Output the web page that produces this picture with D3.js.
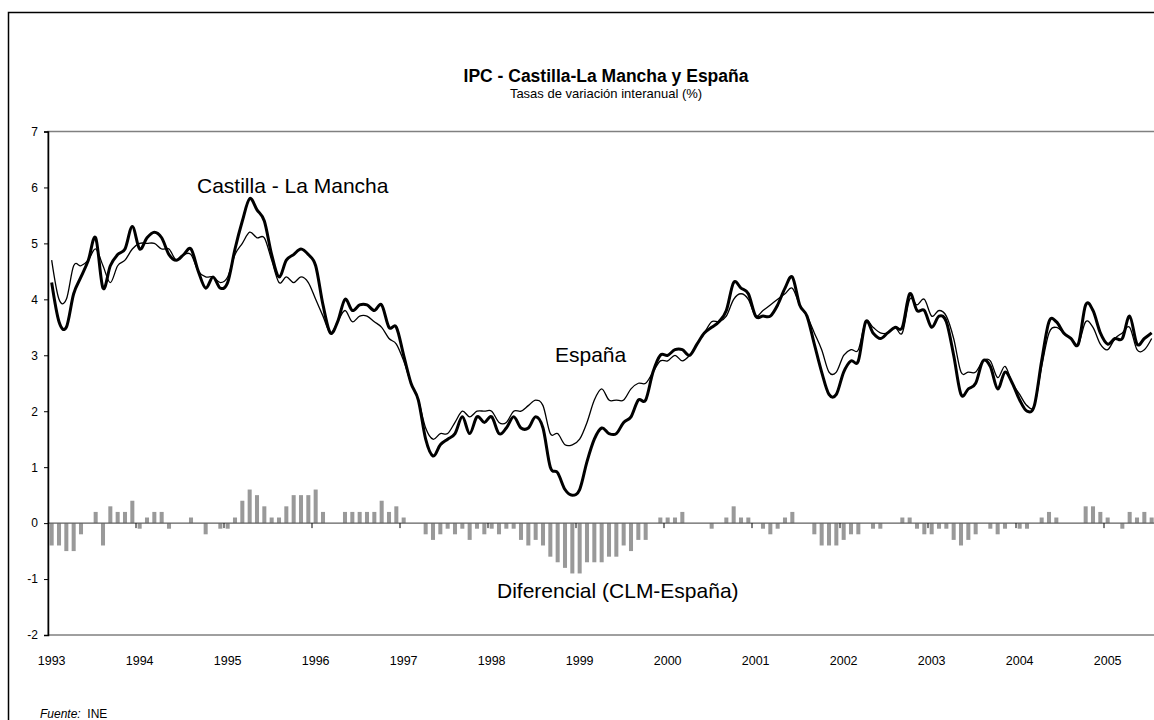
<!DOCTYPE html>
<html>
<head>
<meta charset="utf-8">
<script src="https://cdn.jsdelivr.net/npm/d3@7"></script>
<style>
  body { margin: 0; background: #fff; }
  svg { display: block; font-family: Arial, "Liberation Sans", sans-serif; }
</style>
</head>
<body>
<svg width="1154" height="720"></svg>
<script>
// monthly categories, Jan 1993 .. Jul 2005
var months = d3.timeMonths(new Date(1993, 0, 1), new Date(2005, 7, 1));
var yearLabels = ['1993','1994','1995','1996','1997','1998','1999','2000','2001','2002','2003','2004','2005'];
var yTicks = [-2, -1, 0, 1, 2, 3, 4, 5, 6, 7];

// Castilla-La Mancha (thick line)
var clm = [
  4.3,3.6,3.5,4.1,4.4,4.7,5.1,4.2,4.6,4.8,4.9,5.3,
  4.9,5.1,5.2,5.1,4.8,4.7,4.8,4.9,4.5,4.2,4.4,4.2,
  4.3,4.9,5.4,5.8,5.6,5.4,4.8,4.4,4.7,4.8,4.9,4.8,
  4.6,3.9,3.4,3.6,4.0,3.8,3.9,3.9,3.8,3.9,3.5,3.5,
  3.0,2.5,2.2,1.5,1.2,1.4,1.5,1.6,1.9,1.6,1.9,1.8,
  1.9,1.6,1.7,1.9,1.7,1.7,1.9,1.7,1.0,0.9,0.6,0.5,
  0.6,1.1,1.5,1.7,1.6,1.6,1.8,1.9,2.2,2.2,2.7,3.0,
  3.0,3.1,3.1,3.0,3.2,3.4,3.5,3.6,3.8,4.3,4.2,4.1,
  3.7,3.7,3.7,3.9,4.2,4.4,3.9,3.7,3.2,2.7,2.3,2.3,
  2.7,2.9,2.9,3.6,3.4,3.3,3.4,3.5,3.5,4.1,3.8,3.8,
  3.5,3.7,3.6,3.0,2.3,2.4,2.5,2.9,2.8,2.4,2.7,2.5,
  2.2,2.0,2.1,2.9,3.6,3.6,3.4,3.3,3.2,3.9,3.8,3.4,
  3.2,3.3,3.3,3.7,3.2,3.3,3.4
];

// España (thin line)
var esp = [
  4.7,4.0,4.0,4.6,4.6,4.7,4.9,4.6,4.3,4.6,4.7,4.9,
  5.0,5.0,5.0,4.9,4.9,4.7,4.8,4.8,4.5,4.4,4.4,4.3,
  4.4,4.8,5.0,5.2,5.1,5.1,4.7,4.3,4.4,4.3,4.4,4.3,
  4.0,3.7,3.4,3.6,3.8,3.6,3.7,3.7,3.6,3.5,3.3,3.2,
  2.9,2.5,2.2,1.7,1.5,1.6,1.6,1.8,2.0,1.9,2.0,2.0,
  2.0,1.8,1.8,2.0,2.0,2.1,2.2,2.1,1.6,1.6,1.4,1.4,
  1.5,1.8,2.2,2.4,2.2,2.2,2.2,2.4,2.5,2.5,2.7,2.9,
  2.9,3.0,2.9,3.0,3.2,3.4,3.6,3.6,3.7,4.0,4.1,4.0,
  3.7,3.8,3.9,4.0,4.1,4.2,3.9,3.7,3.4,3.1,2.7,2.7,
  3.0,3.1,3.1,3.6,3.5,3.4,3.4,3.5,3.4,4.0,3.9,4.0,
  3.7,3.8,3.7,3.3,2.7,2.7,2.7,2.9,2.9,2.6,2.8,2.5,
  2.3,2.1,2.1,2.8,3.4,3.5,3.4,3.3,3.2,3.6,3.5,3.2,
  3.1,3.3,3.4,3.5,3.1,3.1,3.3
];

// Diferencial CLM - España (bars)
var dif = [
  -0.4,-0.4,-0.5,-0.5,-0.2,0,0.2,-0.4,0.3,0.2,0.2,0.4,
  -0.1,0.1,0.2,0.2,-0.1,0,0,0.1,0,-0.2,0,-0.1,
  -0.1,0.1,0.4,0.6,0.5,0.3,0.1,0.1,0.3,0.5,0.5,0.5,
  0.6,0.2,0,0,0.2,0.2,0.2,0.2,0.2,0.4,0.2,0.3,
  0.1,0,0,-0.2,-0.3,-0.2,-0.1,-0.2,-0.1,-0.3,-0.1,-0.2,
  -0.1,-0.2,-0.1,-0.1,-0.3,-0.4,-0.3,-0.4,-0.6,-0.7,-0.8,-0.9,
  -0.9,-0.7,-0.7,-0.7,-0.6,-0.6,-0.4,-0.5,-0.3,-0.3,0,0.1,
  0.1,0.1,0.2,0,0,0,-0.1,0,0.1,0.3,0.1,0.1,
  0,-0.1,-0.2,-0.1,0.1,0.2,0,0,-0.2,-0.4,-0.4,-0.4,
  -0.3,-0.2,-0.2,0,-0.1,-0.1,0,0,0.1,0.1,-0.1,-0.2,
  -0.2,-0.1,-0.1,-0.3,-0.4,-0.3,-0.2,0,-0.1,-0.2,-0.1,0,
  -0.1,-0.1,0,0.1,0.2,0.1,0,0,0,0.3,0.3,0.2,
  0.1,0,-0.1,0.2,0.1,0.2,0.1
];

var svg = d3.select('svg');
var plotLeft = 48, plotTop = 131.5, plotBottom = 635;
var step = 88 / 12;

var x = d3.scaleBand()
  .domain(months)
  .range([plotLeft, plotLeft + months.length * step])
  .paddingInner(0.45)
  .paddingOuter(0.225);

var y = d3.scaleLinear().domain([-2, 7]).range([plotBottom, plotTop]);

function cx(i) { return x(months[i]) + x.bandwidth() / 2; }

// outer frame (cropped on the right and bottom)
svg.append('rect')
  .attr('x', 8.5).attr('y', 12.5)
  .attr('width', 1300).attr('height', 900)
  .attr('fill', 'none').attr('stroke', '#000').attr('stroke-width', 1.5);

// titles
svg.append('text')
  .attr('x', 606).attr('y', 82)
  .attr('text-anchor', 'middle')
  .attr('font-size', 17.5).attr('font-weight', 'bold')
  .text('IPC - Castilla-La Mancha y España');
svg.append('text')
  .attr('x', 606).attr('y', 98)
  .attr('text-anchor', 'middle')
  .attr('font-size', 13)
  .text('Tasas de variación interanual (%)');

// plot area border (grey)
svg.append('rect')
  .attr('x', plotLeft).attr('y', plotTop)
  .attr('width', 1300).attr('height', plotBottom - plotTop)
  .attr('fill', 'none').attr('stroke', '#808080').attr('stroke-width', 1.5);

// bars
svg.append('g').selectAll('rect')
  .data(dif)
  .enter()
  .append('rect')
  .attr('x', function(d, i){ return x(months[i]); })
  .attr('width', x.bandwidth())
  .attr('y', function(d){ return y(Math.max(0, d)); })
  .attr('height', function(d){ return Math.abs(y(d) - y(0)); })
  .attr('fill', '#999999');

// zero axis with yearly ticks
svg.append('line')
  .attr('x1', plotLeft).attr('x2', 1160)
  .attr('y1', y(0)).attr('y2', y(0))
  .attr('stroke', '#606060').attr('stroke-width', 1.2);

var yearIdx = d3.range(0, months.length, 12);
svg.append('g').selectAll('line')
  .data(yearIdx.slice(1))
  .enter()
  .append('line')
  .attr('x1', function(i){ return x(months[i]) + x.bandwidth() / 2 - x.step() / 2; })
  .attr('x2', function(i){ return x(months[i]) + x.bandwidth() / 2 - x.step() / 2; })
  .attr('y1', y(0)).attr('y2', y(0) + 5)
  .attr('stroke', '#000').attr('stroke-width', 1);

// year labels under the plot
svg.append('g').selectAll('text')
  .data(yearIdx)
  .enter()
  .append('text')
  .attr('x', function(i){ return cx(i); })
  .attr('y', 665)
  .attr('text-anchor', 'middle')
  .attr('font-size', 12.5)
  .text(function(i, k){ return yearLabels[k]; });

// y axis
var yAxis = svg.append('g')
  .attr('transform', 'translate(' + plotLeft + ',0)')
  .call(d3.axisLeft(y).tickValues(yTicks).tickSize(4).tickPadding(6).tickFormat(function(d){ return String(d); }));
yAxis.select('.domain').attr('stroke', '#000').attr('stroke-width', 1.5);
yAxis.selectAll('.tick line').attr('stroke', '#000');
yAxis.selectAll('.tick text').attr('font-size', 12).attr('font-family', 'Arial, "Liberation Sans", sans-serif').attr('fill', '#000');

// lines
var line = d3.line()
  .x(function(d, i){ return cx(i); })
  .y(function(d){ return y(d); })
  .curve(d3.curveCardinal.tension(0));

svg.append('path')
  .datum(esp)
  .attr('d', line)
  .attr('fill', 'none')
  .attr('stroke', '#000')
  .attr('stroke-width', 1.3);

svg.append('path')
  .datum(clm)
  .attr('d', line)
  .attr('fill', 'none')
  .attr('stroke', '#000')
  .attr('stroke-width', 3);

// series labels
svg.append('text').attr('x', 197).attr('y', 193).attr('font-size', 21).text('Castilla - La Mancha');
svg.append('text').attr('x', 555).attr('y', 362).attr('font-size', 21).text('España');
svg.append('text').attr('x', 497).attr('y', 598).attr('font-size', 21).text('Diferencial (CLM-España)');

// source
var src = svg.append('text').attr('x', 40).attr('y', 718).attr('font-size', 12);
src.append('tspan').attr('font-style', 'italic').text('Fuente:');
src.append('tspan').text('  INE').attr('xml:space', 'preserve');
</script>
</body>
</html>
